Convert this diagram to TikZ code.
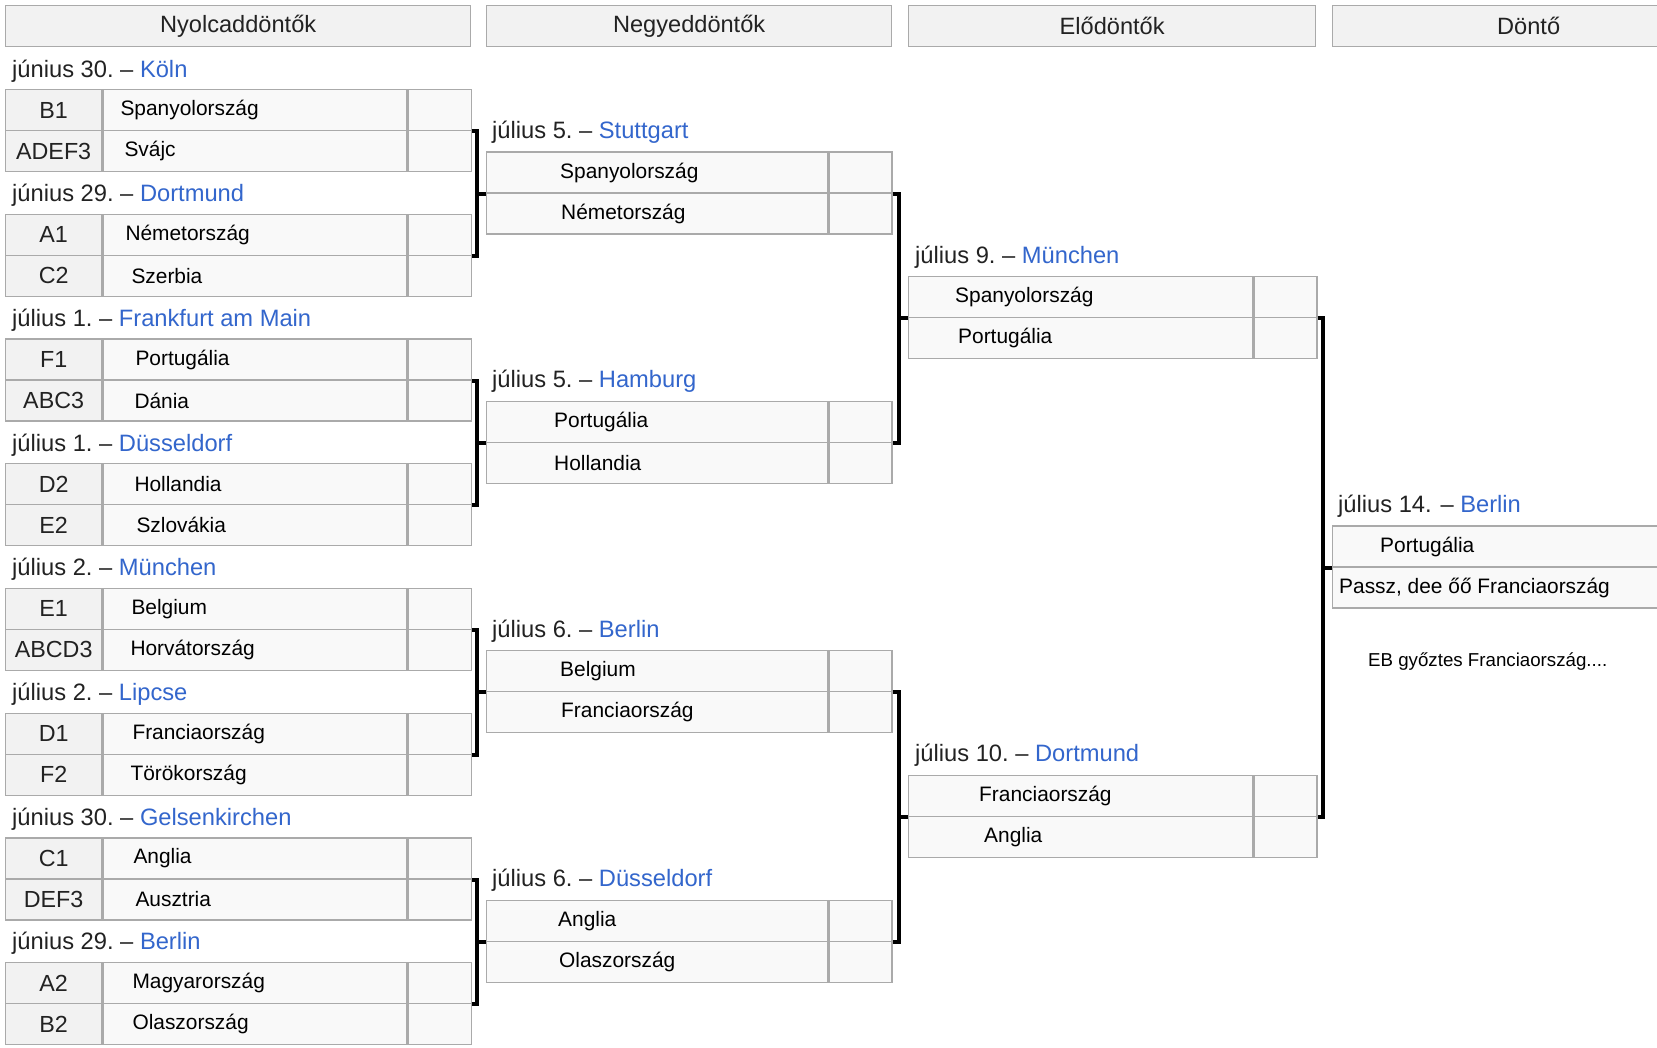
\documentclass[tikz,border=0pt]{standalone}
\usepackage{fontspec}
\setmainfont{Liberation Sans}
\usepackage{tikz}
\usetikzlibrary{positioning, calc}
\definecolor{hdrfill}{HTML}{F2F2F2}
\definecolor{cellfill}{HTML}{F9F9F9}
\definecolor{cellline}{HTML}{AAAAAA}
\definecolor{linkblue}{HTML}{3366CC}
\definecolor{darktext}{HTML}{222222}
\tikzset{
header/.style={%
    rectangle,
    draw=cellline, fill=hdrfill, line width=1.3pt,
    minimum height=41pt, inner sep=0pt, anchor=north west,
    text=darktext, font=\fontsize{23.6}{28}\selectfont
},
seed/.style={%
    rectangle,
    draw=cellline, fill=hdrfill, line width=1.3pt,
    minimum width=96pt, minimum height=41pt, inner sep=0pt, anchor=north west,
    text=darktext, font=\fontsize{23.3}{28}\selectfont
},
team/.style={%
    rectangle,
    draw=cellline, fill=cellfill, line width=1.3pt,
    minimum height=41pt, inner sep=0pt, anchor=north west
},
score/.style={team, minimum width=63pt},
teamname/.style={inner sep=0pt, anchor=west, text=black, font=\fontsize{20.9}{25}\selectfont},
datum/.style={inner sep=0pt, anchor=base west, text=darktext, font=\fontsize{23.7}{28}\selectfont},
bracket/.style={draw=black, line width=4pt},
}

\begin{document}
\begin{tikzpicture}[x=1pt, y=-1pt]
	\useasboundingbox (0,0) rectangle (1657,1047);
	\fill[white] (0,0) rectangle (1657,1047);
	\clip (0,0) rectangle (1657,1047);

	% fejlecek
	\node[header, minimum width=465pt] (h1) at (5,5) {Nyolcaddöntők};
	\node[header, minimum width=405pt] (h2) at (486,5) {Negyeddöntők};
	\node[header, minimum width=407pt] (h3) at (908,5) {Elődöntők};
	\node[header, minimum width=392pt] (h4) at (1332,5) {Döntő};

	% nyolcaddontok
	\foreach \i/\dte/\city/\sda/\tma/\pda/\sdb/\tmb/\pdb in {
		0/június 30./Köln/B1/Spanyolország/18/ADEF3/Svájc/22,
		1/június 29./Dortmund/A1/Németország/23/C2/Szerbia/29,
		2/július 1./Frankfurt am Main/F1/Portugália/33/ABC3/Dánia/32,
		3/július 1./Düsseldorf/D2/Hollandia/32/E2/Szlovákia/34,
		4/július 2./München/E1/Belgium/29/ABCD3/Horvátország/28,
		5/július 2./Lipcse/D1/Franciaország/30/F2/Törökország/28,
		6/június 30./Gelsenkirchen/C1/Anglia/31/DEF3/Ausztria/33,
		7/június 29./Berlin/A2/Magyarország/30/B2/Olaszország/30}{
		\pgfmathsetmacro\ytop{89+124.7*\i}
		\node[datum] (d\i) at (12,\ytop-12) {\dte\ – \textcolor{linkblue}{\city}};
		\node[seed] (sa\i) at (5,\ytop) {\sda};
		\node[seed] (sb\i) at (5,\ytop+41) {\sdb};
		\node[team, minimum width=304pt] (ta\i) at (sa\i.north east) {};
		\node[team, minimum width=304pt] (tb\i) at (sb\i.north east) {};
		\node[score] (pa\i) at (ta\i.north east) {};
		\node[score] (pb\i) at (tb\i.north east) {};
		\node[teamname, right=\pda pt of ta\i.west] {\tma};
		\node[teamname, right=\pdb pt of tb\i.west] {\tmb};
	}

	% negyeddontok
	\foreach \k/\dte/\city/\tma/\pda/\tmb/\pdb in {
		0/július 5./Stuttgart/Spanyolország/74/Németország/75,
		1/július 5./Hamburg/Portugália/68/Hollandia/68,
		2/július 6./Berlin/Belgium/74/Franciaország/75,
		3/július 6./Düsseldorf/Anglia/72/Olaszország/73}{
		\pgfmathsetmacro\ytop{151.35+249.4*\k}
		\pgfmathtruncatemacro\mup{2*\k}
		\pgfmathtruncatemacro\mdn{2*\k+1}
		\node[datum] (qd\k) at (492,\ytop-13) {\dte\ – \textcolor{linkblue}{\city}};
		\node[team, minimum width=341pt] (qa\k) at (486,\ytop) {};
		\node[team, minimum width=341pt] (qb\k) at (486,\ytop+41) {};
		\node[score] (qpa\k) at (qa\k.north east) {};
		\node[score] (qpb\k) at (qb\k.north east) {};
		\node[teamname, right=\pda pt of qa\k.west] {\tma};
		\node[teamname, right=\pdb pt of qb\k.west] {\tmb};
		\coordinate (qj\k) at ($(qa\k.south west)+(-9,0)$);
		\draw[bracket] (pa\mup.south east) -| (qj\k) |- (pa\mdn.south east);
		\draw[bracket] (qj\k) -- (qa\k.south west);
	}

	% elodontok
	\foreach \j/\dte/\city/\tma/\pda/\tmb/\pdb in {
		0/július 9./München/Spanyolország/47/Portugália/50,
		1/július 10./Dortmund/Franciaország/71/Anglia/76}{
		\pgfmathsetmacro\ytop{276.05+498.8*\j}
		\pgfmathtruncatemacro\mup{2*\j}
		\pgfmathtruncatemacro\mdn{2*\j+1}
		\node[datum] (ed\j) at (915,\ytop-13) {\dte\ – \textcolor{linkblue}{\city}};
		\node[team, minimum width=344pt] (ea\j) at (908,\ytop) {};
		\node[team, minimum width=344pt] (eb\j) at (908,\ytop+41) {};
		\node[score] (epa\j) at (ea\j.north east) {};
		\node[score] (epb\j) at (eb\j.north east) {};
		\node[teamname, right=\pda pt of ea\j.west] {\tma};
		\node[teamname, right=\pdb pt of eb\j.west] {\tmb};
		\coordinate (ej\j) at ($(ea\j.south west)+(-9,0)$);
		\draw[bracket] (qpa\mup.south east) -| (ej\j) |- (qpa\mdn.south east);
		\draw[bracket] (ej\j) -- (ea\j.south west);
	}

	% donto
	\node[datum] (fd) at (1338,512.45) {július 14. – \textcolor{linkblue}{Berlin}};
	\node[team, minimum width=400pt] (fa) at (1332,525.45) {};
	\node[team, minimum width=400pt] (fb) at (1332,566.45) {};
	\node[teamname, right=48pt of fa.west] {Portugália};
	\node[teamname, right=7pt of fb.west] {Passz, dee őő Franciaország};
	\coordinate (fj) at ($(fa.south west)+(-9,0)$);
	\draw[bracket] (epa0.south east) -| (fj) |- (epa1.south east);
	\draw[bracket] (fj) -- (fa.south west);

	\node[teamname, font=\fontsize{18.7}{22}\selectfont] (eb) at (1368,662) {EB győztes Franciaország....};
\end{tikzpicture}
\end{document}
